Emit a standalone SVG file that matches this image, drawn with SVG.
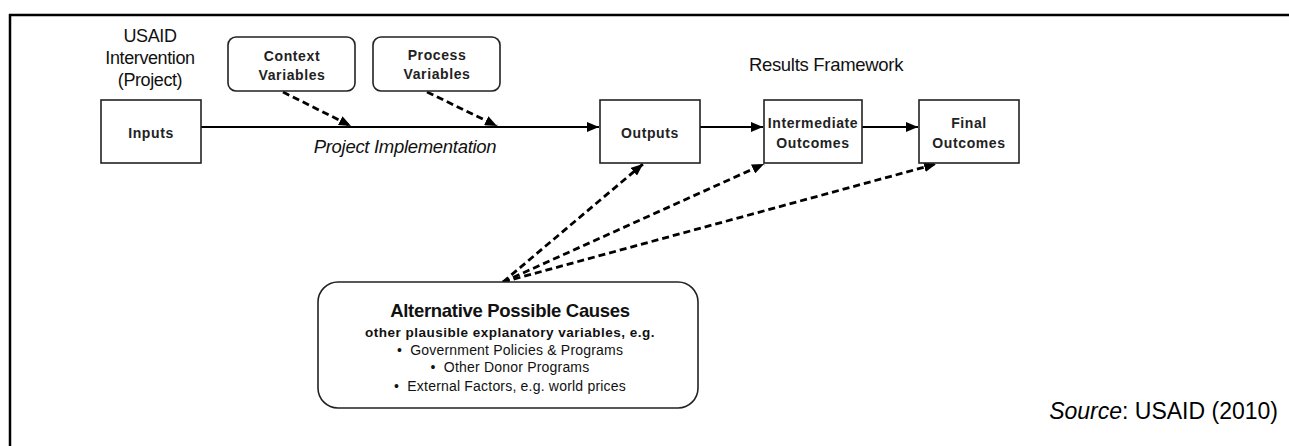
<svg xmlns="http://www.w3.org/2000/svg" width="1289" height="446" viewBox="0 0 1289 446">
<style>
.box{fill:#fff;stroke:#222;stroke-width:1.6}
.lbl{font-family:"Liberation Sans",Arial,sans-serif;font-weight:bold;font-size:14px;fill:#222;text-anchor:middle;letter-spacing:0.6px}
.plain{font-family:"Liberation Sans",Arial,sans-serif;fill:#111;text-anchor:middle}
.big{font-size:18px;letter-spacing:-0.4px}
.solid{stroke:#000;stroke-width:2.2;fill:none}
.dash{stroke:#000;stroke-width:2.8;fill:none;stroke-dasharray:7 4}
</style>
<defs>
<marker id="ah" markerWidth="12" markerHeight="10" refX="12" refY="5" orient="auto" markerUnits="userSpaceOnUse">
<path d="M0,0 L12,5 L0,10 Z" fill="#000"/>
</marker>
</defs>
<rect width="1289" height="446" fill="#fff"/>
<g id="frame">
<line x1="9" y1="15" x2="1289" y2="15" stroke="#000" stroke-width="2.5"/>
<line x1="10" y1="14" x2="10" y2="446" stroke="#000" stroke-width="2.5"/>
</g>
<g id="connectors">
<line class="solid" x1="201" y1="127" x2="599" y2="127" marker-end="url(#ah)"/>
<line class="solid" x1="700" y1="127" x2="763" y2="127" marker-end="url(#ah)"/>
<line class="solid" x1="862" y1="127" x2="918" y2="127" marker-end="url(#ah)"/>
<line class="dash" x1="283" y1="92" x2="351" y2="126" marker-end="url(#ah)"/>
<line class="dash" x1="427" y1="92" x2="497" y2="126" marker-end="url(#ah)"/>
<line class="dash" x1="503" y1="282" x2="643" y2="164" marker-end="url(#ah)"/>
<line class="dash" x1="503" y1="282" x2="764" y2="164" marker-end="url(#ah)"/>
<line class="dash" x1="503" y1="282" x2="936" y2="164" marker-end="url(#ah)"/>
</g>
<g id="usaid-label">
<text class="plain big" x="150" y="42">USAID</text>
<text class="plain big" x="150" y="64">Intervention</text>
<text class="plain big" x="150" y="86">(Project)</text>
</g>
<g id="inputs">
<rect class="box" x="101" y="100" width="100" height="63"/>
<text class="lbl" x="151" y="138">Inputs</text>
</g>
<g id="context">
<rect class="box" x="228" y="37" width="127" height="54" rx="8"/>
<text class="lbl" x="292" y="61">Context</text>
<text class="lbl" x="292" y="80">Variables</text>
</g>
<g id="process">
<rect class="box" x="373" y="37" width="127" height="54" rx="8"/>
<text class="lbl" x="437" y="60">Process</text>
<text class="lbl" x="437" y="79">Variables</text>
</g>
<g id="project-implementation">
<text class="plain" x="405" y="153" font-size="18.5" font-style="italic" letter-spacing="-0.3">Project Implementation</text>
</g>
<g id="outputs">
<rect class="box" x="600" y="100" width="100" height="63"/>
<text class="lbl" x="650" y="138">Outputs</text>
</g>
<g id="results-framework">
<text class="plain" x="826" y="71" font-size="18.5" letter-spacing="-0.3">Results Framework</text>
</g>
<g id="intermediate">
<rect class="box" x="764" y="100" width="98" height="63"/>
<text class="lbl" x="813" y="128">Intermediate</text>
<text class="lbl" x="813" y="148">Outcomes</text>
</g>
<g id="final">
<rect class="box" x="919" y="100" width="100" height="63"/>
<text class="lbl" x="969" y="128">Final</text>
<text class="lbl" x="969" y="148">Outcomes</text>
</g>
<g id="alternative">
<rect class="box" x="318" y="282" width="380" height="126" rx="20"/>
<text class="plain" x="510" y="317" font-size="18.5" font-weight="bold" letter-spacing="-0.3">Alternative Possible Causes</text>
<text class="plain" x="510" y="337" font-size="13.5" font-weight="bold" letter-spacing="0.5">other plausible explanatory variables, e.g.</text>
<text class="plain" x="510" y="355" font-size="14" letter-spacing="0.2">•&#160; Government Policies &amp; Programs</text>
<text class="plain" x="510" y="372" font-size="14" letter-spacing="0.2">•&#160; Other Donor Programs</text>
<text class="plain" x="510" y="391" font-size="14" letter-spacing="0.2">•&#160; External Factors, e.g. world prices</text>
</g>
<g id="source">
<text x="1278" y="419" font-family="'Liberation Sans',Arial,sans-serif" font-size="23" fill="#000" text-anchor="end"><tspan font-style="italic">Source</tspan>: USAID (2010)</text>
</g>
</svg>
